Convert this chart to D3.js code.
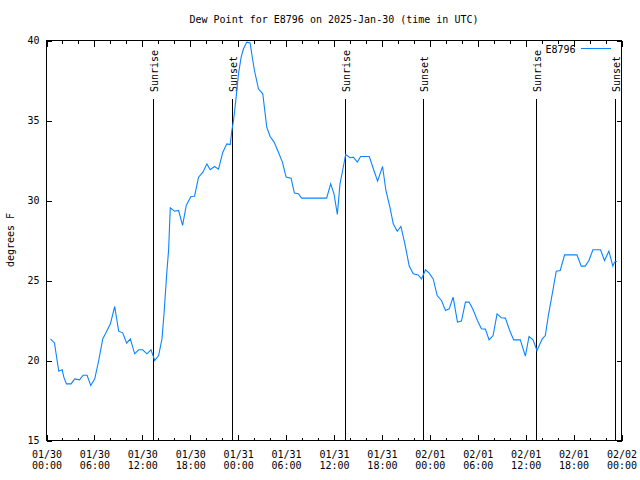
<!DOCTYPE html>
<html>
<head>
<meta charset="utf-8">
<script src="https://cdn.jsdelivr.net/npm/d3@7"></script>
<style>
  html, body { margin: 0; padding: 0; background: #fff; }
  text { font-family: "DejaVu Sans Mono", monospace; font-size: 10px; fill: #000; }
</style>
</head>
<body>
<script>
// ---- data (hours since 2025-01-30 00:00 UTC) ----
const hours = [0.5,1.0,1.33,1.54,1.96,2.17,2.5,3.08,3.54,4.13,4.58,5.08,5.54,6.04,6.54,7.04,7.38,8.0,8.54,9.04,9.54,10.04,10.5,11.04,11.54,12.04,12.58,13.08,13.42,13.54,14.04,14.46,14.71,15.08,15.29,15.5,16.04,16.54,17.04,17.5,18.08,18.54,19.04,19.58,20.08,20.5,21.04,21.54,22.08,22.58,23.0,23.21,23.42,23.75,24.04,24.375,24.67,25.08,25.5,25.7,26.04,26.54,27.08,27.58,28.0,28.5,29.04,29.54,30.0,30.63,31.04,31.54,31.96,35.08,35.58,36.0,36.42,36.75,37.08,37.46,38.0,38.42,38.92,39.33,40.42,41.0,41.46,42.08,42.5,43.0,43.42,43.92,44.375,44.875,45.42,45.92,46.54,46.96,47.46,47.92,48.42,48.92,49.46,49.96,50.42,50.92,51.46,51.96,52.46,52.92,53.42,53.96,54.46,54.96,55.42,55.92,56.42,56.96,57.46,58.0,58.5,59.33,59.96,60.42,60.92,61.42,61.75,62.08,62.46,62.875,63.33,63.83,64.33,64.875,66.42,66.96,67.46,67.92,68.42,69.375,69.875,70.42,70.92,71.125,71.42];
const dewPoint = [21.35,21.1,20.0,19.33,19.42,18.96,18.54,18.54,18.85,18.79,19.08,19.08,18.44,18.85,20.0,21.35,21.67,22.29,23.375,21.83,21.73,21.08,21.35,20.42,20.67,20.67,20.42,20.67,20.2,20.0,20.31,21.35,22.9,25.6,26.9,29.54,29.33,29.375,28.44,29.69,30.25,30.27,31.46,31.77,32.29,31.92,32.125,31.96,33.02,33.54,33.5,34.375,35.0,36.46,37.92,38.96,39.48,39.9,39.85,39.17,38.125,36.98,36.67,34.58,34.0,33.65,33.02,32.4,31.46,31.4,30.46,30.42,30.15,30.15,31.04,30.42,29.125,31.04,31.875,32.875,32.67,32.71,32.4,32.75,32.75,31.875,31.21,32.125,30.625,29.58,28.54,28.08,28.375,27.29,25.9,25.42,25.35,25.1,25.67,25.46,25.1,24.06,23.75,23.125,23.23,23.96,22.4,22.46,23.65,23.65,23.17,22.5,21.98,21.96,21.29,21.56,22.92,22.67,22.65,21.875,21.29,21.29,20.27,21.5,21.29,20.625,21.0,21.35,21.56,22.92,24.17,25.58,25.625,26.6,26.6,25.9,25.9,26.25,26.92,26.92,26.25,26.83,25.9,26.15,26.2];
const sunHours = [13.41, 23.29, 37.44, 47.16, 61.31, 71.19];
const sunLabels = ["Sunrise", "Sunset", "Sunrise", "Sunset", "Sunrise", "Sunset"];
const yTicks = [15, 20, 25, 30, 35, 40];
const seriesName = "E8796";
const titleText = "Dew Point for E8796 on 2025-Jan-30 (time in UTC)";
const yLabel = "degrees F";

// ---- layout ----
const W = 640, H = 480;
const ml = 46.5, mt = 40.5, w = 575, h = 400;
const t0 = Date.UTC(2025, 0, 30);
const toDate = hr => new Date(t0 + hr * 3600e3);

const svg = d3.select("body").append("svg").attr("width", W).attr("height", H);
svg.append("rect").attr("width", W).attr("height", H).attr("fill", "#fff");

const x = d3.scaleUtc().domain([toDate(0), toDate(72)]).range([0, w]);
const y = d3.scaleLinear().domain([15, 40]).range([h, 0]);

const g = svg.append("g").attr("transform", `translate(${ml},${mt})`);

// title
svg.append("text").attr("x", ml + w / 2).attr("y", 23).attr("text-anchor", "middle").text(titleText);
// y label
svg.append("text").attr("transform", "translate(14,240) rotate(-90)").attr("text-anchor", "middle").text(yLabel);

const major = d3.utcHour.every(6), minor = d3.utcHour.every(2);
const fmtD = d3.utcFormat("%m/%d"), fmtT = d3.utcFormat("%H:%M");

function styleAxis(sel) {
  sel.select(".domain").remove();
  sel.selectAll("line").attr("stroke", "#000").attr("shape-rendering", "crispEdges");
}

// bottom major with labels
const bx = g.append("g").attr("transform", `translate(0,${h})`)
  .call(d3.axisBottom(x).ticks(major).tickSize(-6).tickFormat(() => ""));
styleAxis(bx);
bx.selectAll(".tick text").remove();
bx.selectAll(".tick").append("text")
  .attr("text-anchor", "middle").attr("font-size", 10)
  .each(function(d) {
    const t = d3.select(this);
    t.append("tspan").attr("x", 0).attr("y", 17).text(fmtD(d));
    t.append("tspan").attr("x", 0).attr("y", 28).text(fmtT(d));
  });
// bottom minor
styleAxis(g.append("g").attr("transform", `translate(0,${h})`)
  .call(d3.axisBottom(x).ticks(minor).tickSize(-3).tickFormat(() => "")));
// top major/minor (mirror)
styleAxis(g.append("g").call(d3.axisTop(x).ticks(major).tickSize(-6).tickFormat(() => "")));
styleAxis(g.append("g").call(d3.axisTop(x).ticks(minor).tickSize(-3).tickFormat(() => "")));

// left axis
const ly = g.append("g").call(d3.axisLeft(y).tickValues(yTicks).tickSize(-5).tickPadding(7).tickFormat(d3.format("d")));
styleAxis(ly);
ly.selectAll("text").attr("font-family", "DejaVu Sans Mono, monospace").attr("font-size", 10);
// right axis mirror
styleAxis(g.append("g").attr("transform", `translate(${w},0)`)
  .call(d3.axisRight(y).tickValues(yTicks).tickSize(-5).tickFormat(() => "")));

// frame
g.append("rect").attr("width", w).attr("height", h).attr("fill", "none")
  .attr("stroke", "#000").attr("shape-rendering", "crispEdges");

// sunrise / sunset lines
const sunG = g.append("g");
sunHours.forEach((hr, i) => {
  const xp = Math.round(x(toDate(hr))) ;
  sunG.append("line").attr("x1", xp).attr("x2", xp).attr("y1", y(40) + 58.5).attr("y2", h)
    .attr("stroke", "#000").attr("shape-rendering", "crispEdges");
  sunG.append("text").attr("transform", `translate(${xp + 4.5},${y(40) + 51.5}) rotate(-90)`)
    .attr("text-anchor", "start").text(sunLabels[i]);
});

// data line
const line = d3.line().x((d, i) => x(toDate(hours[i]))).y(d => y(d));
g.append("path").datum(dewPoint).attr("d", line)
  .attr("fill", "none").attr("stroke", "#0a84ff").attr("stroke-width", 1.1);

// legend
g.append("text").attr("x", 529).attr("y", 12).attr("text-anchor", "end").text(seriesName);
g.append("line").attr("x1", 534).attr("x2", 564).attr("y1", 8).attr("y2", 8)
  .attr("stroke", "#0a84ff").attr("shape-rendering", "crispEdges");
</script>
</body>
</html>
